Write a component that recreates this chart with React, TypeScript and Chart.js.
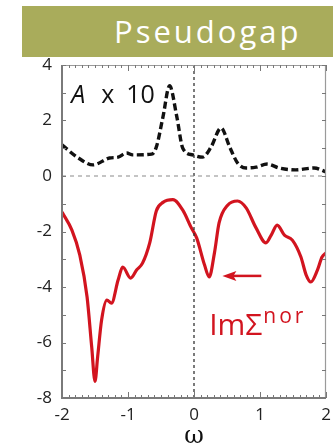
import React, { useEffect, useRef } from "react";
import { Chart, registerables } from "chart.js";

Chart.register(...registerables);

// Spectral function A x 10 (black dashed)
const omegaA = [-2, -1.77, -1.53, -1.28, -1.15, -1.02, -0.93, -0.64, -0.57, -0.47, -0.37, -0.26, -0.17, -0.02, 0.13, 0.26, 0.41, 0.54, 0.66, 0.79, 0.94, 1.11, 1.29, 1.54, 1.82, 2.0];
const valuesA = [1.12, 0.68, 0.40, 0.65, 0.68, 0.83, 0.76, 0.79, 1.05, 2.13, 3.25, 2.13, 1.0, 0.76, 0.68, 1.05, 1.73, 1.05, 0.47, 0.29, 0.32, 0.43, 0.29, 0.22, 0.29, 0.15];

// Im Sigma^nor (red)
const omegaS = [-2, -1.85, -1.73, -1.62, -1.55, -1.50, -1.46, -1.40, -1.32, -1.25, -1.15, -1.08, -0.96, -0.87, -0.78, -0.67, -0.57, -0.47, -0.32, -0.17, -0.04, 0.04, 0.16, 0.23, 0.31, 0.38, 0.51, 0.66, 0.79, 0.94, 1.09, 1.17, 1.26, 1.37, 1.49, 1.62, 1.70, 1.77, 1.87, 1.94, 2.0];
const valuesS = [-1.30, -1.95, -2.85, -4.36, -6.16, -7.40, -6.52, -5.19, -4.47, -4.58, -3.75, -3.28, -3.68, -3.39, -3.14, -2.40, -1.25, -0.95, -0.85, -1.23, -1.87, -2.23, -3.21, -3.64, -2.77, -1.69, -1.05, -0.90, -1.15, -1.87, -2.41, -2.13, -1.77, -2.13, -2.31, -2.92, -3.57, -3.82, -3.39, -2.92, -2.77];

const xRange = [-2, 2];
const yRange = [-8, 4];
const titleText = "Pseudogap";
const labelA = ["A", "x", "10"];
const labelS = ["Im\u03A3", "nor"];
const axisTitle = "\u03C9";

const RED = "#d2141f";

const framePlugin = {
  id: "frame",
  afterDatasetsDraw(chart: any) {
    const { ctx, chartArea: a, scales } = chart;
    const xs = scales.x, ys = scales.y;
    ctx.save();
    // top & right frame
    ctx.strokeStyle = "#9a9a9a";
    ctx.lineWidth = 1.2;
    ctx.beginPath();
    ctx.moveTo(a.left, a.top + 0.5);
    ctx.lineTo(a.right - 0.5, a.top + 0.5);
    ctx.lineTo(a.right - 0.5, a.bottom);
    ctx.stroke();
    // inward ticks
    ctx.strokeStyle = "#777";
    ctx.lineWidth = 1;
    ctx.beginPath();
    for (let i = -20; i <= 20; i++) {
      const v = i / 10;
      const px = Math.round(xs.getPixelForValue(v)) + 0.5;
      const len = i % 10 === 0 ? 6 : 3;
      ctx.moveTo(px, a.bottom);
      ctx.lineTo(px, a.bottom - len);
      ctx.moveTo(px, a.top);
      ctx.lineTo(px, a.top + len);
    }
    for (let v = yRange[0]; v <= yRange[1]; v++) {
      const py = Math.round(ys.getPixelForValue(v)) + 0.5;
      ctx.moveTo(a.left, py);
      ctx.lineTo(a.left + 4, py);
      ctx.moveTo(a.right, py);
      ctx.lineTo(a.right - 4, py);
    }
    ctx.stroke();
    // left & bottom axis lines
    ctx.strokeStyle = "#7a7a7a";
    ctx.lineWidth = 2;
    ctx.beginPath();
    ctx.moveTo(a.left, a.top);
    ctx.lineTo(a.left, a.bottom);
    ctx.lineTo(a.right, a.bottom);
    ctx.stroke();

    // "A x 10" label
    const ax = xs.getPixelForValue(-1.86);
    const ay = ys.getPixelForValue(2.63);
    ctx.fillStyle = "#111";
    ctx.textBaseline = "alphabetic";
    ctx.textAlign = "left";
    ctx.font = "italic 25px 'Open Sans'";
    ctx.fillText(labelA[0], ax, ay);
    ctx.font = "25px 'Open Sans'";
    ctx.fillText(labelA[1], ax + 30, ay);
    ctx.fillText(labelA[2], ax + 55, ay);

    // Im Sigma^nor label
    const sx = xs.getPixelForValue(0.23);
    const sy = ys.getPixelForValue(-5.73);
    ctx.fillStyle = RED;
    ctx.font = "30px 'Open Sans'";
    ctx.fillText(labelS[0], sx, sy);
    const w = ctx.measureText(labelS[0]).width;
    ctx.font = "21px 'Open Sans'";
    (ctx as any).letterSpacing = "3px";
    ctx.fillText(labelS[1], sx + w + 1, sy - 12);
    (ctx as any).letterSpacing = "0px";

    // arrow
    const x1 = xs.getPixelForValue(1.02);
    const x0 = xs.getPixelForValue(0.43);
    const yArr = ys.getPixelForValue(-3.6);
    ctx.strokeStyle = RED;
    ctx.lineWidth = 2.5;
    ctx.beginPath();
    ctx.moveTo(x1, yArr);
    ctx.lineTo(x0 + 8, yArr);
    ctx.stroke();
    ctx.fillStyle = RED;
    ctx.beginPath();
    ctx.moveTo(x0, yArr);
    ctx.lineTo(x0 + 14, yArr - 5);
    ctx.lineTo(x0 + 11, yArr);
    ctx.lineTo(x0 + 14, yArr + 5);
    ctx.closePath();
    ctx.fill();
    ctx.restore();
  },
};

export default function App() {
  const ref = useRef<HTMLCanvasElement>(null);
  useEffect(() => {
    if (!ref.current) return;
    const chart = new Chart(ref.current, {
      type: "line",
      data: {
        datasets: [
          {
            data: [{ x: xRange[0], y: 0 }, { x: xRange[1], y: 0 }],
            borderColor: "#8a8a8a",
            borderWidth: 1,
            borderDash: [4, 4],
            pointRadius: 0,
          },
          {
            data: [{ x: 0, y: yRange[0] }, { x: 0, y: yRange[1] }],
            borderColor: "#333",
            borderWidth: 1.3,
            borderDash: [3, 3],
            pointRadius: 0,
          },
          {
            data: omegaA.map((x, i) => ({ x, y: valuesA[i] })),
            borderColor: "#111",
            borderWidth: 3.4,
            borderDash: [7, 3.5],
            pointRadius: 0,
            cubicInterpolationMode: "monotone",
          },
          {
            data: omegaS.map((x, i) => ({ x, y: valuesS[i] })),
            borderColor: RED,
            borderWidth: 3.2,
            pointRadius: 0,
            cubicInterpolationMode: "monotone",
          },
        ],
      },
      options: {
        animation: false,
        responsive: false,
        maintainAspectRatio: false,
        parsing: false as any,
        layout: { padding: { top: 65, right: 7, left: 0, bottom: 0 } },
        plugins: { legend: { display: false }, tooltip: { enabled: false }, title: { display: false } },
        scales: {
          x: {
            type: "linear",
            min: xRange[0],
            max: xRange[1],
            grid: { display: false, drawTicks: false },
            border: { display: false },
            ticks: { stepSize: 1, padding: 7, color: "#222", font: { family: "'Open Sans'", size: 17 } },
            title: { display: true, text: axisTitle, color: "#111", font: { family: "'DejaVu Serif'", size: 24, lineHeight: 1 }, padding: { top: 0, bottom: -5 } },
            afterFit: (s: any) => { s.height = 46; s.paddingRight = 0; s.paddingLeft = 0; },
          },
          y: {
            type: "linear",
            min: yRange[0],
            max: yRange[1],
            grid: { display: false, drawTicks: false },
            border: { display: false },
            ticks: { stepSize: 2, padding: 10, color: "#222", font: { family: "'Open Sans'", size: 17 } },
            afterFit: (s: any) => { s.width = 62; s.paddingTop = 0; s.paddingBottom = 0; },
          },
        },
      },
      plugins: [framePlugin],
    });
    return () => chart.destroy();
  }, []);

  return (
    <div style={{ position: "fixed", left: 0, top: 0, width: 333, height: 444, background: "#fff", overflow: "hidden" }}>
      <canvas ref={ref} width={333} height={444} style={{ position: "absolute", left: 0, top: 0, width: 333, height: 444 }} />
      <div
        style={{
          position: "absolute",
          left: 22,
          top: 6,
          width: 311,
          height: 51,
          background: "#a9ac5b",
        }}
      >
        <div
          style={{
            position: "absolute",
            left: 92,
            top: 0,
            lineHeight: "50px",
            color: "#fff",
            fontFamily: "'Open Sans', sans-serif",
            fontSize: 31,
            letterSpacing: 3,
            whiteSpace: "nowrap",
          }}
        >
          {titleText}
        </div>
      </div>
    </div>
  );
}
